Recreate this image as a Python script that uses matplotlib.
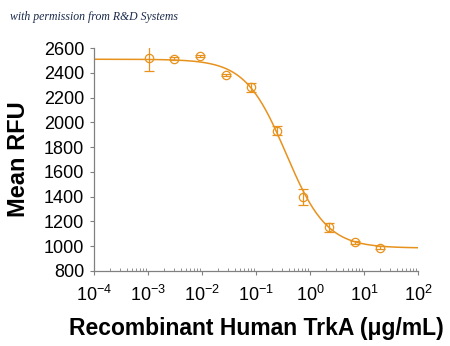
import numpy as np
import matplotlib.pyplot as plt
from matplotlib.ticker import LogLocator, FixedLocator

# data (3-fold dilution series)
conc = [0.00102, 0.00305, 0.00914, 0.0274, 0.0823, 0.247, 0.741, 2.22, 6.67, 20.0]
rfu = [2519, 2513, 2538, 2382, 2282, 1932, 1398, 1151, 1030, 989]
err = [100, 12, 10, 10, 35, 35, 65, 35, 10, 10]

# 4PL fit parameters estimated from the drawn curve
top = 2510
bottom = 985
ec50 = 0.36
hill = 1.15

orange = '#E8921E'

plt.rcParams['font.family'] = ['Liberation Sans', 'DejaVu Sans']
plt.rcParams['mathtext.fontset'] = 'custom'
plt.rcParams['mathtext.rm'] = 'Liberation Sans'
plt.rcParams['mathtext.default'] = 'regular'

fig = plt.figure(figsize=(4.5, 3.46), dpi=100)
ax = fig.add_axes([0.209, 0.217, 0.72, 0.644])

xs = np.logspace(-4, 2, 400)
fit = bottom + (top - bottom) / (1 + (xs / ec50) ** hill)
ax.plot(xs, fit, color=orange, lw=1.1)

ax.errorbar(conc, rfu, yerr=err, fmt='o', mfc='none', mec=orange, ecolor=orange,
            ms=6, mew=0.9, elinewidth=0.9, capsize=3.5, capthick=0.9)

ax.set_xscale('log')
ax.set_xlim(1e-4, 1e2)
ax.set_ylim(800, 2600)
ax.set_yticks(range(800, 2601, 200))
ax.xaxis.set_major_locator(FixedLocator([1e-4, 1e-3, 1e-2, 1e-1, 1, 10, 100]))
ax.xaxis.set_minor_locator(LogLocator(base=10, subs=np.arange(2, 10), numticks=20))
ax.set_xticklabels([r'10$^{-4}$', r'10$^{-3}$', r'10$^{-2}$', r'10$^{-1}$',
                    r'10$^{0}$', r'10$^{1}$', r'10$^{2}$'])

for s in ['top', 'right']:
    ax.spines[s].set_visible(False)
for s in ['left', 'bottom']:
    ax.spines[s].set_color('#808080')
    ax.spines[s].set_linewidth(0.9)

ax.tick_params(axis='y', direction='out', length=3, color='#808080', labelsize=13, pad=4)
ax.tick_params(axis='x', which='major', direction='out', length=3, color='#808080',
               labelsize=13, pad=7)
ax.tick_params(axis='x', which='minor', direction='in', length=2, color='#808080')

ax.set_ylabel('Mean RFU', fontsize=17, fontweight='bold', labelpad=10)
ax.set_xlabel('Recombinant Human TrkA (\u03bcg/mL)', fontsize=16.5, fontweight='bold', labelpad=9)

fig.text(0.022, 0.951, 'with permission from R&D Systems', fontsize=8.5, style='italic',
         family='Liberation Serif', color='#1a2a4a', va='center')

fig.savefig('out.png', dpi=100)
